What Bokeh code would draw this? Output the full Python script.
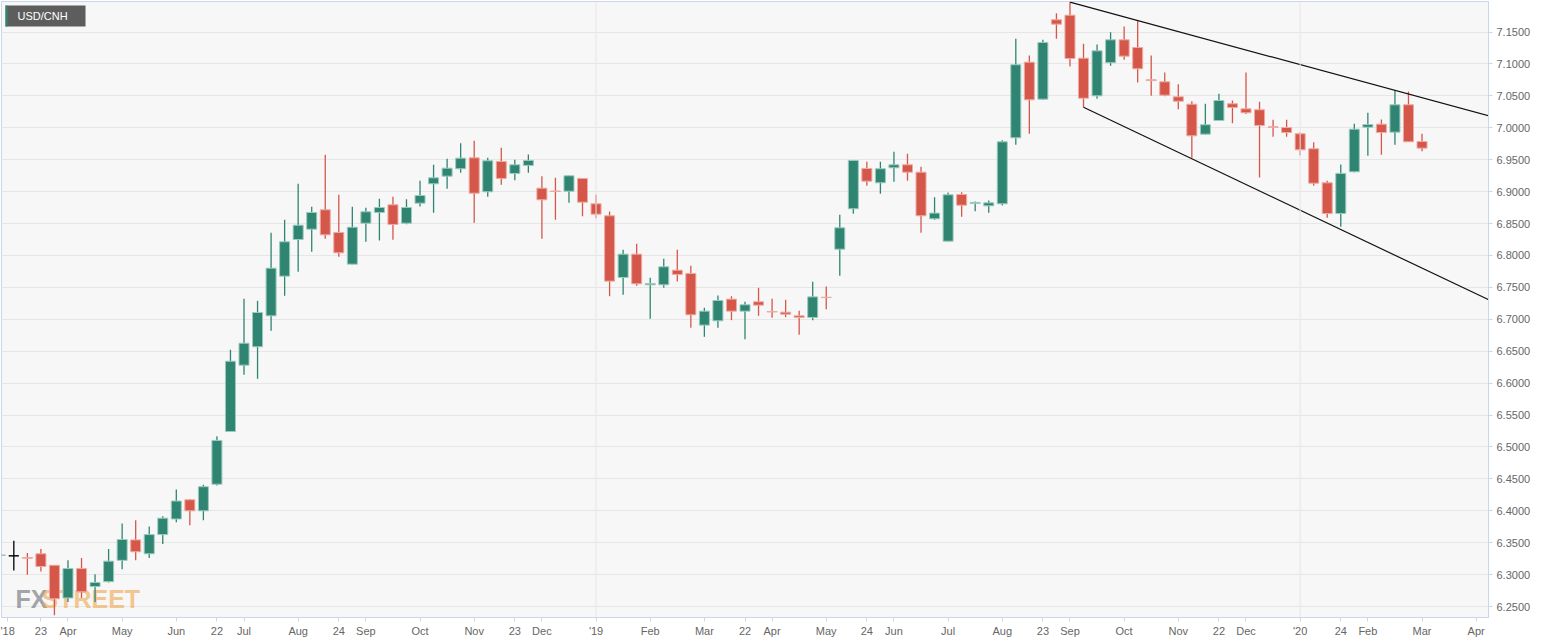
from bokeh.plotting import figure
from bokeh.models import Range1d, FixedTicker, NumeralTickFormatter, Span, ColumnDataSource
from bokeh.embed import file_html
from bokeh.resources import INLINE
from bokeh.core.properties import value

# ---------------- data (weekly USD/CNH candles, index = week number) ----------------
week = list(range(106))
opens = [6.3300, 6.3295, 6.3268, 6.3327, 6.3147, 6.2635, 6.3096, 6.2814, 6.2891, 6.3224,
         6.3545, 6.3327, 6.3628, 6.3872, 6.4173, 6.4000, 6.4417, 6.5243, 6.6282, 6.6570,
         6.7055, 6.7676, 6.8251, 6.8412, 6.8716, 6.8360, 6.7864, 6.8506, 6.8674, 6.8794,
         6.8506, 6.8820, 6.9123, 6.9243, 6.9359, 6.9530, 6.8998, 6.9473, 6.9285, 6.9411,
         6.9055, 6.9010, 6.9007, 6.9207, 6.8810, 6.8622, 6.7656, 6.8021, 6.7541, 6.7541,
         6.7770, 6.7718, 6.6909, 6.6977, 6.7316, 6.7128, 6.7275, 6.7122, 6.7112, 6.7055,
         6.7029, 6.7346, 6.8099, 6.8732, 6.9363, 6.9139, 6.9374, 6.9421, 6.9305, 6.8575,
         6.8224, 6.8956, 6.8815, 6.8778, 6.8810, 6.9844, 7.1029, 7.0449, 7.1693, 7.1765,
         7.1091, 7.0501, 7.1020, 7.1379, 7.1259, 7.0753, 7.0721, 7.0486, 7.0370, 6.9901,
         7.0115, 7.0377, 7.0298, 7.0283, 7.0016, 7.0005, 6.9907, 6.9672, 6.9138, 6.8657,
         6.9311, 7.0010, 7.0057, 6.9932, 7.0361, 6.9786]
highs = [6.3690, 6.3532, 6.3340, 6.3404, 6.3150, 6.3224, 6.3263, 6.3006, 6.3404, 6.3801,
         6.3853, 6.3756, 6.3917, 6.4333, 6.4186, 6.4410, 6.5170, 6.6522, 6.7322, 6.7290,
         6.8356, 6.8560, 6.9123, 6.8763, 6.9578, 6.8951, 6.8763, 6.8747, 6.8889, 6.8920,
         6.8882, 6.9170, 6.9420, 6.9515, 6.9760, 6.9797, 6.9530, 6.9687, 6.9500, 6.9582,
         6.9243, 6.9217, 6.9250, 6.9207, 6.8951, 6.8689, 6.8089, 6.8183, 6.7650, 6.7948,
         6.8089, 6.7839, 6.7181, 6.7373, 6.7362, 6.7275, 6.7494, 6.7322, 6.7306, 6.7134,
         6.7588, 6.7514, 6.8638, 6.9489, 6.9468, 6.9468, 6.9625, 6.9593, 6.9389, 6.8914,
         6.8987, 6.8992, 6.8846, 6.8862, 6.9807, 7.1395, 7.1133, 7.1379, 7.1796, 7.1968,
         7.1317, 7.1306, 7.1499, 7.1587, 7.1681, 7.1133, 7.0867, 7.0684, 7.0417, 7.0377,
         7.0533, 7.0428, 7.0867, 7.0408, 7.0126, 7.0126, 6.9932, 6.9775, 6.9170, 6.9427,
         7.0063, 7.0236, 7.0131, 7.0580, 7.0569, 6.9907]
lows = [6.2890, 6.3064, 6.3000, 6.3051, 6.2365, 6.2571, 6.2635, 6.2571, 6.2878, 6.3083,
        6.3224, 6.3263, 6.3481, 6.3821, 6.3776, 6.3853, 6.4397, 6.5235, 6.6131, 6.6068,
        6.6820, 6.7369, 6.7745, 6.8058, 6.8262, 6.7980, 6.7864, 6.8215, 6.8235, 6.8246,
        6.8490, 6.8768, 6.8669, 6.9045, 6.9296, 6.8512, 6.8920, 6.9108, 6.9180, 6.9296,
        6.8262, 6.8560, 6.8826, 6.8616, 6.8585, 6.7362, 6.7384, 6.7526, 6.7008, 6.7494,
        6.7593, 6.6867, 6.6726, 6.6867, 6.6987, 6.6689, 6.7055, 6.7024, 6.7034, 6.6758,
        6.6987, 6.7159, 6.7682, 6.8653, 6.9092, 6.8967, 6.9154, 6.9170, 6.8356, 6.8560,
        6.8220, 6.8606, 6.8694, 6.8669, 6.8784, 6.9734, 6.9907, 7.0440, 7.1395, 7.0961,
        7.0323, 7.0455, 7.0972, 7.1066, 7.0710, 7.0501, 7.0496, 7.0292, 6.9530, 6.9895,
        7.0110, 7.0073, 7.0215, 6.9222, 6.9860, 6.9860, 6.9567, 6.9092, 6.8592, 6.8451,
        6.9305, 6.9562, 6.9578, 6.9734, 6.9780, 6.9634]
closes = [6.3310, 6.3295, 6.3258, 6.3128, 6.2622, 6.3096, 6.2731, 6.2878, 6.3212, 6.3551,
          6.3359, 6.3628, 6.3885, 6.4154, 6.4000, 6.4378, 6.5103, 6.6344, 6.6626, 6.7107,
          6.7801, 6.8215, 6.8475, 6.8674, 6.8324, 6.8042, 6.8443, 6.8685, 6.8752, 6.8486,
          6.8752, 6.8940, 6.9217, 6.9368, 6.9525, 6.8976, 6.9484, 6.9207, 6.9421, 6.9489,
          6.8873, 6.9004, 6.9249, 6.8835, 6.8648, 6.7598, 6.8021, 6.7557, 6.7562, 6.7823,
          6.7703, 6.7071, 6.7128, 6.7295, 6.7128, 6.7228, 6.7222, 6.7115, 6.7080, 6.7029,
          6.7352, 6.7340, 6.8434, 6.9489, 6.9165, 6.9359, 6.9421, 6.9305, 6.8622, 6.8664,
          6.8951, 6.8788, 6.8831, 6.8825, 6.9781, 7.0988, 7.0439, 7.1337, 7.1624, 7.1086,
          7.0464, 7.1206, 7.1379, 7.1123, 7.0925, 7.0740, 7.0512, 7.0417, 6.9875, 7.0048,
          7.0428, 7.0319, 7.0236, 7.0037, 7.0008, 6.9927, 6.9656, 6.9133, 6.8657, 6.9286,
          6.9979, 7.0052, 6.9927, 7.0361, 6.9781, 6.9682]

x_tick_pos = [0.5, 3, 5, 9, 13, 16, 18, 22, 25, 27, 31, 35, 38, 40, 44, 48, 52, 55, 57,
              61, 64, 66, 70, 74, 77, 79, 83, 87, 90, 92, 96, 99, 101, 105, 109]
x_tick_labels = ["'18", "23", "Apr", "May", "Jun", "22", "Jul", "Aug", "24", "Sep", "Oct",
                 "Nov", "23", "Dec", "'19", "Feb", "Mar", "22", "Apr", "May", "24", "Jun",
                 "Jul", "Aug", "23", "Sep", "Oct", "Nov", "22", "Dec", "'20", "24", "Feb",
                 "Mar", "Apr"]
y_ticks = [6.25, 6.30, 6.35, 6.40, 6.45, 6.50, 6.55, 6.60, 6.65, 6.70, 6.75, 6.80, 6.85,
           6.90, 6.95, 7.00, 7.05, 7.10, 7.15]

# falling-wedge trend lines (week index, price)
upper_line_x = [79, 121]
upper_line_y = [7.1968, 6.9551]
lower_line_x = [80, 121]
lower_line_y = [7.0323, 6.6189]

pair_title = "USD/CNH"

# ---------------- styling ----------------
W, H = 1565, 643
X0, X1 = 0.09, 109.91
Y0, Y1 = 6.2329, 7.1979
FRAME_L, FRAME_T, FRAME_W, FRAME_H = 1, 1, 1487, 616

GREEN = "#2f8571"
GREEN_EDGE = "#9ccbbf"
RED = "#d5574a"
RED_EDGE = "#efaaa2"
AXIS_COL = "#ccd6eb"
GRID_COL = "#e6e6e6"
LABEL_COL = "#666666"
FONT = "'Liberation Sans', Arial, sans-serif"
WM_FONT = "'Liberation Sans Narrow', 'Arial Narrow', 'Liberation Sans', sans-serif"


def sx(px):
    return X0 + (px - FRAME_L) / FRAME_W * (X1 - X0)


def sy(py):
    return Y1 - (py - FRAME_T) / FRAME_H * (Y1 - Y0)


p = figure(width=W, height=H, output_backend="svg", toolbar_location=None,
           x_range=Range1d(X0, X1), y_range=Range1d(Y0, Y1),
           y_axis_location="right",
           min_border_left=FRAME_L, min_border_top=FRAME_T,
           min_border_right=W - FRAME_L - FRAME_W, min_border_bottom=H - FRAME_T - FRAME_H)

p.background_fill_color = "#f7f7f7"
p.border_fill_color = "white"
p.outline_line_color = AXIS_COL

# axes
p.xaxis.ticker = FixedTicker(ticks=x_tick_pos)
p.xaxis.major_label_overrides = {t: l for t, l in zip(x_tick_pos, x_tick_labels)}
p.yaxis.ticker = FixedTicker(ticks=y_ticks)
p.yaxis.formatter = NumeralTickFormatter(format="0.0000")
for ax in (p.xaxis[0], p.yaxis[0]):
    ax.axis_line_color = AXIS_COL
    ax.major_tick_line_color = AXIS_COL
    ax.minor_tick_line_color = None
    ax.major_tick_in = 0
    ax.major_tick_out = 4
    ax.major_label_text_color = LABEL_COL
    ax.major_label_text_font = FONT
    ax.major_label_text_font_size = "11px"
p.xaxis.major_label_standoff = 3
p.yaxis.major_label_standoff = 4

p.xgrid.grid_line_color = None
p.ygrid.ticker = FixedTicker(ticks=y_ticks)
p.ygrid.grid_line_color = GRID_COL

for t, l in zip(x_tick_pos, x_tick_labels):
    if l.startswith("'") and t > 1:
        p.add_layout(Span(location=t, dimension="height", line_color=GRID_COL, line_width=1))

# watermark
p.text(x=[sx(15)], y=[sy(598)], text=["FX"], text_color="#8a8d96", text_alpha=0.8,
       text_font=value(WM_FONT), text_font_style="bold", text_font_size="25px",
       text_baseline="alphabetic", text_align="left")
p.text(x=[sx(41)], y=[sy(598)], text=["STREET"], text_color="#f0a955", text_alpha=0.65,
       text_font=value(WM_FONT), text_font_style="bold", text_font_size="25px",
       text_baseline="alphabetic", text_align="left")

# candles
colors, edges, tops, bottoms = [], [], [], []
for o, c in zip(opens, closes):
    if c > o:
        colors.append(GREEN); edges.append(GREEN_EDGE)
    elif c < o:
        colors.append(RED); edges.append(RED_EDGE)
    else:
        colors.append("#000000"); edges.append("#000000")
    tops.append(max(o, c))
    bottoms.append(min(o, c))

src = ColumnDataSource(dict(x=week, o=opens, h=highs, l=lows, c=closes,
                            top=tops, bottom=bottoms, color=colors, edge=edges))
p.segment(x0="x", y0="l", x1="x", y1="h", source=src, line_color="color", line_width=1.3)
p.vbar(x="x", top="top", bottom="bottom", width=0.74, source=src,
       fill_color="color", line_color="edge", line_width=1)

# trend lines
p.line(upper_line_x, upper_line_y, line_color="#111111", line_width=1.2)
p.line(lower_line_x, lower_line_y, line_color="#111111", line_width=1.2)

# title badge
p.quad(left=[sx(5)], right=[sx(85)], top=[sy(5)], bottom=[sy(26)], fill_color="#5d5d5d", line_color=None)
p.quad(left=[sx(5)], right=[sx(7)], top=[sy(5)], bottom=[sy(26)], fill_color=GREEN, line_color=None)
p.text(x=[sx(17)], y=[sy(15.5)], text=[pair_title], text_color="white", text_font=value(FONT),
       text_font_size="11px", text_baseline="middle", text_align="left")

open("out.html", "w").write(file_html(p, INLINE))
